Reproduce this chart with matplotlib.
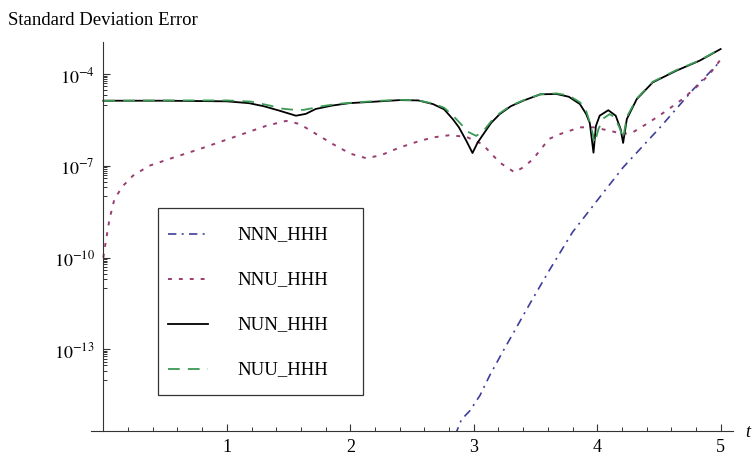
import numpy as np
from matplotlib import pyplot as plt
from matplotlib.patches import Rectangle
from matplotlib.lines import Line2D
from matplotlib.ticker import FixedLocator, MultipleLocator

plt.rcParams['font.family'] = ['Liberation Serif', 'DejaVu Serif']
plt.rcParams['mathtext.fontset'] = 'stix'

# values, as x and log10(error)
nnn_x = [2.85, 2.90, 2.97, 3.05, 3.13, 3.24, 3.34, 3.43, 3.61, 3.80, 4.01, 4.21, 4.51, 4.78, 5.0]
nnn_e = [-15.8, -15.3, -15.0, -14.51, -13.85, -13.04, -12.33, -11.68, -10.43, -9.17, -8.08, -7.05, -5.74, -4.49, -3.57]

nnu_x = [0, 0.01, 0.05, 0.09, 0.16, 0.24, 0.37, 0.53, 0.78, 1.05, 1.32, 1.48, 1.59, 1.72, 1.86,
         2.0, 2.13, 2.25, 2.40, 2.55, 2.67, 2.80, 2.94, 3.07, 3.21, 3.33, 3.40, 3.48, 3.61, 3.70,
         3.86, 3.97, 4.10, 4.21, 4.29, 4.42, 4.56, 4.69, 4.83, 4.92, 5.0]
nnu_e = [-10.0, -9.72, -8.74, -8.08, -7.65, -7.32, -7.0, -6.78, -6.45, -6.07, -5.69, -5.53, -5.63, -5.95, -6.29,
         -6.6, -6.75, -6.65, -6.4, -6.2, -6.07, -6.0, -6.05, -6.29, -6.89, -7.21, -7.05, -6.78, -6.12, -5.96,
         -5.74, -5.74, -5.85, -5.96, -5.9, -5.58, -5.2, -4.82, -4.33, -3.95, -3.52]

nun_x = [0, 0.5, 1.0, 1.18, 1.3, 1.43, 1.56, 1.64, 1.72, 1.85, 1.99, 2.2, 2.4, 2.55, 2.67, 2.76,
         2.83, 2.88, 2.94, 2.99, 3.03, 3.07, 3.14, 3.21, 3.30, 3.40, 3.54, 3.67, 3.77, 3.86, 3.91,
         3.94, 3.97, 3.99, 4.02, 4.09, 4.15, 4.19, 4.21, 4.24, 4.32, 4.45, 4.64, 4.83, 5.0]
nun_e = [-4.87, -4.87, -4.89, -4.95, -5.05, -5.2, -5.36, -5.3, -5.14, -5.03, -4.95, -4.9, -4.85, -4.86, -4.98, -5.15,
         -5.47, -5.74, -6.18, -6.58, -6.25, -6.01, -5.6, -5.31, -5.05, -4.87, -4.66, -4.65, -4.74, -4.98, -5.3,
         -5.6, -6.57, -5.69, -5.36, -5.18, -5.36, -5.8, -6.25, -5.47, -4.82, -4.27, -3.89, -3.56, -3.18]

nuu_x = [0, 0.5, 1.0, 1.2, 1.35, 1.45, 1.55, 1.62, 1.7, 1.77, 1.9, 2.0, 2.2, 2.4, 2.55, 2.67, 2.76,
         2.83, 2.9, 2.96, 3.02, 3.08, 3.14, 3.21, 3.30, 3.40, 3.54, 3.67, 3.77, 3.86, 3.91, 3.95,
         3.98, 4.01, 4.05, 4.10, 4.14, 4.18, 4.21, 4.24, 4.32, 4.45, 4.64, 4.83, 5.0]
nuu_e = [-4.87, -4.86, -4.86, -4.9, -5.03, -5.13, -5.17, -5.17, -5.11, -5.05, -4.97, -4.94, -4.88, -4.84, -4.86, -4.96, -5.1,
         -5.35, -5.65, -5.9, -6.02, -5.85, -5.55, -5.28, -5.03, -4.86, -4.66, -4.63, -4.7, -4.92, -5.2, -5.7,
         -6.25, -5.8, -5.45, -5.31, -5.4, -5.74, -6.1, -5.4, -4.8, -4.25, -3.87, -3.55, -3.17]

names = ["NNN_HHH", "NNU_HHH", "NUN_HHH", "NUU_HHH"]
yticks_exp = [-4, -7, -10, -13]
xticks = [1, 2, 3, 4, 5]

series = [(nnn_x, nnn_e), (nnu_x, nnu_e), (nun_x, nun_e), (nuu_x, nuu_e)]
colors = ["#3e3e9a", "#993d71", "#000000", "#3d9956"]
dashes = [(5, 3.2, 1.2, 3.2), (2.0, 3.6), None, (6.5, 4.5)]
widths = [1.2, 1.4, 1.3, 1.3]

fig = plt.figure(figsize=(7.54, 4.56), dpi=100)
ax = fig.add_axes([91/754, 24.3/456, (733-91)/754, (431.7-42.7)/456])

for (xs, es), c, d, w in zip(series, colors, dashes, widths):
    line, = ax.plot(xs, 10.0 ** np.array(es), color=c, lw=w)
    if d is not None:
        line.set_dashes(d)

ax.set_yscale('log')
ax.set_xlim(-0.1, 5.1)
ax.set_ylim(10 ** -15.66, 10 ** -2.94)

for s in ['top', 'right']:
    ax.spines[s].set_visible(False)
ax.spines['left'].set_position(('data', 0))
for s in ['left', 'bottom']:
    ax.spines[s].set_color('#333333')
    ax.spines[s].set_linewidth(0.8)

ax.set_xticks(xticks)
ax.set_xticklabels([str(v) for v in xticks])
ax.xaxis.set_minor_locator(MultipleLocator(0.2))
ax.yaxis.set_major_locator(FixedLocator([10.0 ** k for k in yticks_exp]))
ax.set_yticklabels([r'$10^{%d}$' % k for k in yticks_exp])
minor = [m * 10.0 ** (k - 1) for k in yticks_exp for m in range(1, 10)]
ax.yaxis.set_minor_locator(FixedLocator(minor))
ax.yaxis.set_minor_formatter(plt.NullFormatter())

ax.tick_params(which='both', direction='in', colors='#333333', labelcolor='black', labelsize=13)
ax.tick_params(which='major', length=5, width=0.8)
ax.tick_params(which='minor', length=2.8, width=0.7)
ax.tick_params(axis='x', pad=5)
ax.tick_params(axis='y', pad=6)

fig.text(8/754, 1 - 25/456, "Standard Deviation Error", fontsize=13.5, va='baseline', ha='left')
fig.text(745/754, 1 - 437/456, "t", fontsize=13, fontstyle='italic', va='baseline', ha='left')

# legend box
W, H = 754.0, 456.0
box = Rectangle((157.7/W, 1 - 396/H), (363.3-157.7)/W, (396-209.3)/H, transform=fig.transFigure,
                facecolor='white', edgecolor='#333333', lw=0.9)
fig.add_artist(box)
rows = [235, 280, 325, 370]
for name, c, d, w, yp in zip(names, colors, dashes, widths, rows):
    h = Line2D([168/W, 208/W], [1 - yp/H, 1 - yp/H], transform=fig.transFigure, color=c, lw=w)
    if d is not None:
        h.set_dashes(d)
    fig.add_artist(h)
    fig.text(237.7/W, 1 - yp/H, name, fontsize=13.5, va='center', ha='left')

fig.savefig("out.png", dpi=100)
